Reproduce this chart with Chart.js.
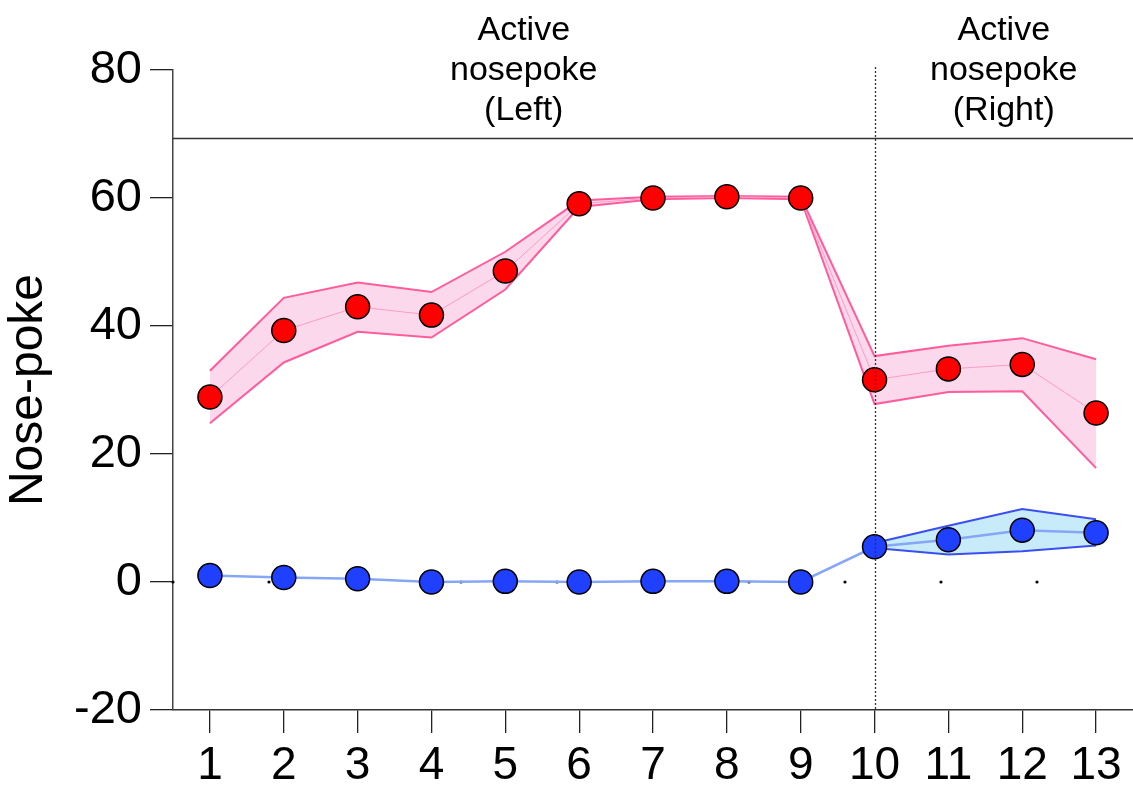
<!DOCTYPE html>
<html>
<head>
<meta charset="utf-8">
<script src="https://cdn.jsdelivr.net/npm/chart.js@4"></script>
<style>
  body { margin: 0; background: #fff; }
  canvas { display: block; }
</style>
</head>
<body>
<canvas id="grafico" width="1133" height="788"></canvas>
<script>
// sessions
const days = [1, 2, 3, 4, 5, 6, 7, 8, 9, 10, 11, 12, 13];

// active nosepoke (red): mean and band
const redMean  = [28.9, 39.3, 43.0, 41.7, 48.6, 59.1, 60.0, 60.2, 60.0, 31.6, 33.3, 34.0, 26.4];
const redUpper = [33.0, 44.4, 46.8, 45.3, 51.6, 59.6, 60.2, 60.3, 60.2, 35.3, 36.9, 38.1, 34.8];
const redLower = [24.8, 34.3, 39.1, 38.2, 45.7, 58.6, 59.8, 60.0, 59.8, 27.8, 29.7, 29.8, 17.8];

// inactive nosepoke (blue): mean and band
const blueMean  = [1.0, 0.7, 0.5, 0.0, 0.1, 0.0, 0.1, 0.1, 0.0, 5.5, 6.6, 8.1, 7.7];
const blueUpper = [null, null, null, null, null, null, null, null, null, 6.1, 8.8, 11.4, 9.8];
const blueLower = [null, null, null, null, null, null, null, null, null, 5.3, 4.3, 4.8, 5.7];

// small dots along zero
const dotX = [0.5, 1.8, 3.1, 4.4, 5.7, 7.0, 8.3, 9.6, 10.9, 12.2];

const yTicks = [-20, 0, 20, 40, 60, 80];
const switchDay = 10;
const dividerY = 69.4;
const leftLabel = ['Active', 'nosepoke', '(Left)'];
const rightLabel = ['Active', 'nosepoke', '(Right)'];

const FONT = "'Liberation Sans', Arial, sans-serif";

function pts(arr) {
    return days.map((d, i) => ({ x: d, y: arr[i] }));
}

const extras = {
    id: 'extras',
    afterDatasetsDraw(chart) {
        const { ctx, chartArea, scales } = chart;
        const x = scales.x, y = scales.y;
        ctx.save();
        // horizontal divider
        const hy = Math.round(y.getPixelForValue(dividerY)) + 0.5;
        ctx.strokeStyle = '#333';
        ctx.lineWidth = 1.5;
        ctx.beginPath();
        ctx.moveTo(chartArea.left, hy);
        ctx.lineTo(chart.width, hy);
        ctx.stroke();
        // dotted switch line
        const vx = Math.round(x.getPixelForValue(switchDay)) + 0.5;
        ctx.setLineDash([2, 2]);
        ctx.strokeStyle = '#333';
        ctx.lineWidth = 1.3;
        ctx.beginPath();
        ctx.moveTo(vx, chartArea.top - 3);
        ctx.lineTo(vx, chartArea.bottom);
        ctx.stroke();
        ctx.restore();
    },
    afterDraw(chart) {
        const { ctx, chartArea, scales } = chart;
        const vx = scales.x.getPixelForValue(switchDay);
        ctx.save();
        ctx.fillStyle = '#000';
        ctx.font = '34px ' + FONT;
        ctx.textAlign = 'center';
        ctx.textBaseline = 'alphabetic';
        const cl = (chartArea.left + vx) / 2;
        const cr = (vx + chart.width) / 2;
        leftLabel.forEach((t, i) => ctx.fillText(t, cl, 40 + i * 40));
        rightLabel.forEach((t, i) => ctx.fillText(t, cr, 40 + i * 40));
        ctx.restore();
    }
};

const ctx = document.getElementById('grafico').getContext('2d');

new Chart(ctx, {
    type: 'line',
    data: {
        datasets: [
            {
                data: pts(redMean),
                borderColor: '#ff9cc8',
                borderWidth: 1,
                pointRadius: 12,
                pointBackgroundColor: '#ff0000',
                pointBorderColor: '#000',
                pointBorderWidth: 1.5,
                fill: false
            },
            {
                data: pts(blueMean),
                borderColor: '#86a6f6',
                borderWidth: 2.5,
                pointRadius: 12,
                pointBackgroundColor: '#2040ff',
                pointBorderColor: '#000',
                pointBorderWidth: 1.5,
                fill: false
            },
            {
                data: dotX.map(v => ({ x: v, y: 0 })),
                showLine: false,
                pointRadius: 1.6,
                pointBackgroundColor: '#000',
                pointBorderWidth: 0
            },
            {
                data: pts(redLower),
                borderColor: '#ff5c9c',
                borderWidth: 2,
                pointRadius: 0,
                fill: false
            },
            {
                data: pts(redUpper),
                borderColor: '#ff5c9c',
                borderWidth: 2,
                pointRadius: 0,
                backgroundColor: '#fcd8ec',
                fill: '-1'
            },
            {
                data: pts(blueLower),
                borderColor: '#3b4ff0',
                borderWidth: 2,
                pointRadius: 0,
                fill: false
            },
            {
                data: pts(blueUpper),
                borderColor: '#3b4ff0',
                borderWidth: 2,
                pointRadius: 0,
                backgroundColor: '#c8ebf9',
                fill: '-1'
            }
        ]
    },
    options: {
        responsive: false,
        animation: false,
        clip: false,
        layout: {
            autoPadding: false,
            padding: { top: 70, right: 0, left: 0, bottom: 0 }
        },
        plugins: {
            legend: { display: false },
            tooltip: { enabled: false }
        },
        scales: {
            x: {
                type: 'linear',
                min: 0.5,
                max: 13.5,
                afterBuildTicks(scale) {
                    scale.ticks = days.map(v => ({ value: v }));
                },
                afterFit(scale) {
                    scale.height = 78;
                    scale.paddingLeft = 0;
                    scale.paddingRight = 0;
                },
                grid: {
                    drawOnChartArea: false,
                    drawTicks: true,
                    tickLength: 23,
                    color: '#222',
                    lineWidth: 1.3
                },
                border: { display: true, color: '#333', width: 1.5 },
                ticks: {
                    padding: 6,
                    color: '#000',
                    font: { family: FONT, size: 46 },
                    maxRotation: 0,
                    autoSkip: false
                }
            },
            y: {
                min: -20,
                max: 80,
                afterBuildTicks(scale) {
                    scale.ticks = yTicks.map(v => ({ value: v }));
                },
                afterFit(scale) {
                    scale.width = 173;
                    scale.paddingTop = 0;
                    scale.paddingBottom = 0;
                },
                grid: {
                    drawOnChartArea: false,
                    drawTicks: true,
                    tickLength: 23,
                    color: '#222',
                    lineWidth: 1.3
                },
                border: { display: true, color: '#444', width: 1.5 },
                ticks: {
                    padding: 8,
                    color: '#000',
                    font: { family: FONT, size: 47 }
                },
                title: {
                    display: true,
                    text: 'Nose-poke',
                    color: '#000',
                    font: { family: FONT, size: 48 },
                    padding: { top: 0, bottom: 0 }
                }
            }
        }
    },
    plugins: [extras]
});
</script>
</body>
</html>
